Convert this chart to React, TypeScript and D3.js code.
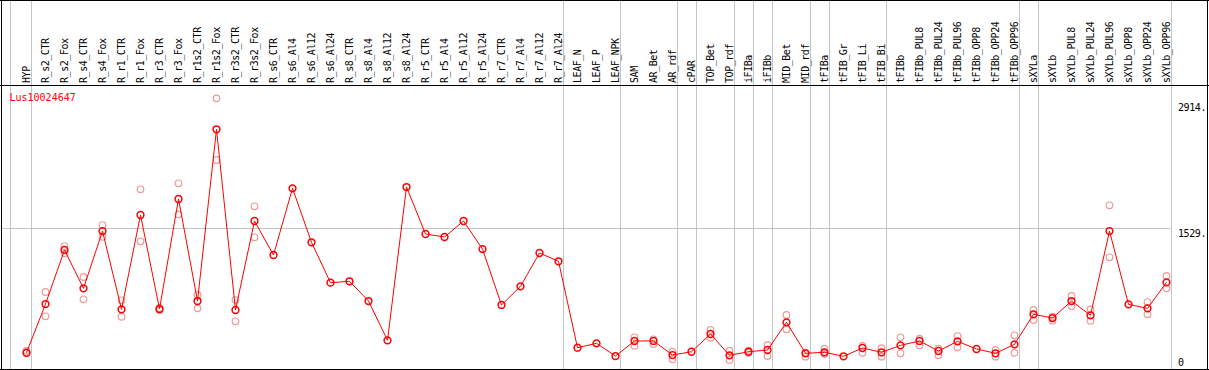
import React from "react";
import * as d3 from "d3";

const categories = [
  "HYP","R_s2_CTR","R_s2_Fox","R_s4_CTR","R_s4_Fox","R_r1_CTR","R_r1_Fox","R_r3_CTR","R_r3_Fox",
  "R_r1s2_CTR","R_r1s2_Fox","R_r3s2_CTR","R_r3s2_Fox","R_s6_CTR","R_s6_Al4","R_s6_Al12","R_s6_Al24",
  "R_s8_CTR","R_s8_Al4","R_s8_Al12","R_s8_Al24","R_r5_CTR","R_r5_Al4","R_r5_Al12","R_r5_Al24",
  "R_r7_CTR","R_r7_Al4","R_r7_Al12","R_r7_Al24","LEAF_N","LEAF_P","LEAF_NPK","SAM","AR_Bet","AR_rdf",
  "cPAR","TOP_Bet","TOP_rdf","iFIBa","iFIBb","MID_Bet","MID_rdf","tFIBa","tFIB_Gr","tFIB_Li","tFIB_Bi",
  "tFIBb","tFIBb_PUL8","tFIBb_PUL24","tFIBb_PUL96","tFIBb_OPP8","tFIBb_OPP24","tFIBb_OPP96","sXYLa",
  "sXYLb","sXYLb_PUL8","sXYLb_PUL24","sXYLb_PUL96","sXYLb_OPP8","sXYLb_OPP24","sXYLb_OPP96"
];

const meanValues = [
  167,700,1292,872,1499,642,1675,646,1850,733,2613,635,1609,1237,1967,1376,934,
  949,733,303,1981,1467,1434,1609,1302,690,894,1259,1168,222,270,131,296,296,142,
  178,372,139,178,197,500,161,172,128,219,172,248,296,186,292,208,161,259,588,
  547,733,577,1499,697,653,938
];

const replicateA: (number | null)[] = [
  188,832,1335,996,1565,741,1956,657,2022,799,2952,744,1770,null,null,null,null,
  null,null,null,null,null,null,null,null,null,null,null,null,null,null,null,336,314,178,
  null,416,189,189,252,580,167,211,null,241,216,336,321,211,350,null,197,358,635,
  561,788,642,1781,null,722,1007
];

const replicateB: (number | null)[] = [
  164,566,1255,752,1437,561,1387,635,1682,653,2277,511,1431,null,null,null,null,
  null,null,null,null,null,null,null,null,null,null,null,null,null,null,null,244,263,95,
  null,332,88,167,131,424,124,153,null,167,124,161,248,139,227,null,124,167,525,
  518,679,518,1212,null,588,872
];

const groupEnds = ["HYP","R_r7_Al24","LEAF_NPK","AR_rdf","cPAR","TOP_rdf","iFIBa","iFIBb",
  "MID_rdf","tFIBa","tFIB_Bi","tFIBb_OPP96","sXYLa","sXYLb_OPP96"];

const yTicks = [0, 1529, 2914];
const geneName = "Lus10024647";

const W = 1209, H = 370;

export default function App() {
  const x = d3.scalePoint<string>().domain(categories).range([26.5, 1166.5]);
  const y = d3.scaleLinear().domain([0, 2914]).range([368, 101.8]);
  const line = d3.line<number>().x((_, i) => x(categories[i])!).y(d => y(d));
  const font = "'DejaVu Sans Mono', monospace";
  const red = "#ff0000";
  const pink = "#f09a9a";
  const grey = "#c4c4c4";
  const plotRight = x(categories[categories.length - 1])! + 4;
  const tickY = (v: number) => Math.min(y(v) + 9, 366);
  return (
    <div>
      <style>{"body{margin:0}"}</style>
      <svg width={W} height={H} style={{ display: "block" }} fontFamily={font}>
        <rect x={0} y={0} width={W} height={H} fill="#fff" />
        {/* vertical group lines */}
        <line x1={10.5} x2={10.5} y1={0} y2={H} stroke={grey} strokeWidth={1} />
        {groupEnds.map(c => (
          <line key={c} x1={Math.round(x(c)! + 4) + 0.5} x2={Math.round(x(c)! + 4) + 0.5}
            y1={0} y2={H} stroke={grey} strokeWidth={1} />
        ))}
        {/* mid gridline */}
        <line x1={1} x2={plotRight} y1={Math.round(y(1529)) + 0.5} y2={Math.round(y(1529)) + 0.5}
          stroke={grey} strokeWidth={1} />
        {/* frame */}
        <line x1={0} x2={W} y1={0.5} y2={0.5} stroke="#000" />
        <line x1={0} x2={W} y1={85.5} y2={85.5} stroke="#000" />
        <line x1={0} x2={W} y1={369.5} y2={369.5} stroke="#000" />
        <line x1={1.5} x2={1.5} y1={0} y2={H} stroke="#000" />
        <line x1={1207.5} x2={1207.5} y1={0} y2={H} stroke="#000" />
        {/* column labels */}
        {categories.map(c => (
          <text key={c} transform={`translate(${x(c)},83) rotate(-90)`} fontSize={10}
            letterSpacing={-0.45} dy="0.35em" fill="#000">{c}</text>
        ))}
        {/* y tick labels */}
        {yTicks.map(v => (
          <text key={v} x={1178} y={tickY(v)} fontSize={10} letterSpacing={-0.4} fill="#000">
            {v === 0 ? "0" : `${v}.`}
          </text>
        ))}
        <text x={9.5} y={100.5} fontSize={10} fill={red}>{geneName}</text>
        {/* replicates */}
        {[replicateA, replicateB].map((arr, k) =>
          arr.map((v, i) => v == null ? null : (
            <circle key={`r${k}-${i}`} cx={x(categories[i])} cy={y(v)} r={3.3}
              fill="none" stroke={pink} strokeWidth={1.2} />
          ))
        )}
        <path d={line(meanValues) || ""} fill="none" stroke={red} strokeWidth={1} />
        {meanValues.map((v, i) => (
          <circle key={`m${i}`} cx={x(categories[i])} cy={y(v)} r={3.4}
            fill="none" stroke={red} strokeWidth={1.5} />
        ))}
      </svg>
    </div>
  );
}
